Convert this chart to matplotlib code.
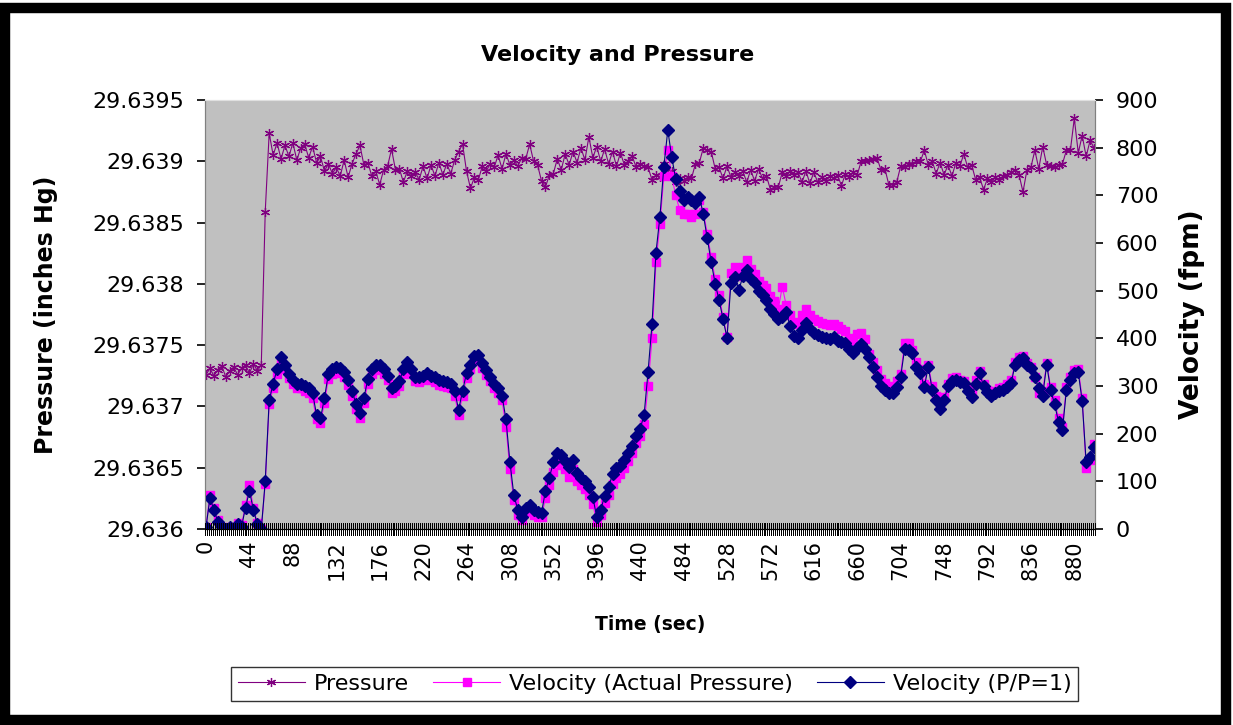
import matplotlib
matplotlib.use("Agg")
import matplotlib.pyplot as plt
from matplotlib.patches import Rectangle
from matplotlib.ticker import FormatStrFormatter

# time axis (sec), one sample every 4 s
time_s = list(range(0, 901, 4))

# barometric pressure (inches Hg)
pressure = [
    29.63726, 29.63731, 29.63725, 29.63730, 29.63733, 29.63724, 29.63729, 29.63732, 29.63726, 29.63731, 29.63734,
    29.63727, 29.63735, 29.63729, 29.63734, 29.63859, 29.63923, 29.63905, 29.63915, 29.63902, 29.63913, 29.63904,
    29.63915, 29.63901, 29.63911, 29.63914, 29.63903, 29.63912, 29.63899, 29.63904, 29.63892, 29.63898, 29.63890,
    29.63895, 29.63888, 29.63901, 29.63887, 29.63898, 29.63906, 29.63913, 29.63897, 29.63899, 29.63888, 29.63892,
    29.63881, 29.63893, 29.63896, 29.63910, 29.63893, 29.63894, 29.63883, 29.63892, 29.63888, 29.63891, 29.63885,
    29.63896, 29.63886, 29.63897, 29.63888, 29.63899, 29.63889, 29.63898, 29.63890, 29.63901, 29.63908, 29.63914,
    29.63892, 29.63878, 29.63887, 29.63885, 29.63896, 29.63892, 29.63898, 29.63895, 29.63905, 29.63894, 29.63906,
    29.63897, 29.63901, 29.63896, 29.63903, 29.63902, 29.63914, 29.63900, 29.63897, 29.63884, 29.63879, 29.63889,
    29.63890, 29.63902, 29.63893, 29.63906, 29.63897, 29.63908, 29.63899, 29.63911, 29.63901, 29.63920, 29.63903,
    29.63912, 29.63900, 29.63910, 29.63898, 29.63908, 29.63896, 29.63907, 29.63897, 29.63900, 29.63904, 29.63895,
    29.63898, 29.63896, 29.63895, 29.63885, 29.63889, 29.63887, 29.63898, 29.63890, 29.63892, 29.63883, 29.63886,
    29.63884, 29.63887, 29.63886, 29.63898, 29.63899, 29.63911, 29.63909, 29.63908, 29.63894, 29.63895, 29.63886,
    29.63896, 29.63887, 29.63891, 29.63888, 29.63892, 29.63883, 29.63893, 29.63884, 29.63894, 29.63886, 29.63888,
    29.63877, 29.63879, 29.63879, 29.63891, 29.63888, 29.63892, 29.63889, 29.63891, 29.63883, 29.63892, 29.63882,
    29.63891, 29.63883, 29.63887, 29.63884, 29.63888, 29.63886, 29.63889, 29.63880, 29.63890, 29.63887, 29.63891,
    29.63889, 29.63900, 29.63900, 29.63901, 29.63902, 29.63903, 29.63893, 29.63894, 29.63881, 29.63881, 29.63883,
    29.63896, 29.63895, 29.63898, 29.63898, 29.63900, 29.63900, 29.63909, 29.63897, 29.63900, 29.63890, 29.63899,
    29.63889, 29.63897, 29.63888, 29.63899, 29.63896, 29.63906, 29.63895, 29.63897, 29.63885, 29.63887, 29.63877,
    29.63886, 29.63883, 29.63887, 29.63885, 29.63888, 29.63889, 29.63891, 29.63893, 29.63889, 29.63875, 29.63893,
    29.63895, 29.63909, 29.63894, 29.63912, 29.63897, 29.63896, 29.63895, 29.63897, 29.63898, 29.63909, 29.63909,
    29.63935, 29.63907, 29.63921, 29.63904, 29.63917, 29.63911,
]

# velocity computed with actual pressure (fpm)
vel_actual = [
    5, 72, 45, 18, 5, 0, 5, 0, 12, 8, 50,
    92, 45, 12, 0, 95, 262, 296, 325, 350, 336, 316,
    304, 296, 296, 290, 285, 274, 230, 222, 265, 315, 326,
    330, 328, 320, 303, 280, 252, 233, 265, 305, 325, 335,
    334, 325, 312, 285, 290, 300, 325, 340, 325, 310, 308,
    312, 317, 312, 308, 303, 300, 298, 295, 280, 240, 280,
    317, 335, 352, 355, 338, 323, 310, 295, 285, 270, 215,
    125, 60, 30, 18, 35, 40, 30, 25, 25, 65, 92,
    120, 140, 135, 125, 110, 125, 100, 92, 85, 72, 52,
    15, 30, 55, 72, 95, 108, 115, 128, 142, 160, 180,
    195, 220, 300, 400, 560, 640, 740, 795, 740, 700, 670,
    660, 660, 655, 660, 690, 665, 620, 570, 525, 490, 445,
    403, 537, 550, 530, 550, 564, 545, 535, 520, 512, 505,
    488, 478, 462, 508, 470, 450, 435, 430, 448, 462, 450,
    440, 437, 432, 430, 428, 430, 425, 420, 415, 400, 390,
    410, 411, 398, 368, 350, 333, 315, 306, 298, 300, 310,
    325, 390, 390, 375, 350, 335, 305, 345, 300, 280, 260,
    278, 305, 316, 318, 313, 310, 296, 285, 312, 332, 305,
    292, 286, 290, 296, 298, 304, 312, 350, 360, 362, 348,
    340, 320, 285, 290, 348, 298, 270, 232, 215, 298, 320,
    333, 336, 275, 128, 145, 178,
]

# velocity computed with P/P=1 (fpm)
vel_std = [
    5, 65, 40, 15, 5, 0, 5, 0, 10, 5, 45,
    80, 40, 10, 0, 100, 270, 305, 335, 360, 345, 325,
    313, 305, 305, 300, 295, 285, 240, 232, 275, 325, 335,
    340, 338, 330, 313, 290, 262, 243, 275, 315, 335, 345,
    344, 335, 322, 295, 300, 310, 335, 350, 335, 320, 318,
    322, 327, 322, 318, 313, 310, 308, 305, 290, 250, 290,
    327, 345, 362, 365, 348, 333, 320, 305, 295, 280, 230,
    140, 71, 40, 25, 45, 50, 40, 35, 34, 80, 108,
    140, 160, 155, 143, 130, 145, 117, 108, 100, 88, 67,
    25, 40, 70, 88, 115, 128, 132, 145, 160, 175, 195,
    210, 240, 330, 430, 580, 655, 760, 837, 780, 735, 710,
    690, 697, 690, 684, 697, 660, 610, 560, 515, 480, 440,
    401, 516, 529, 501, 530, 543, 525, 516, 500, 490, 480,
    462, 452, 440, 445, 455, 425, 405, 400, 417, 432, 420,
    411, 407, 403, 400, 398, 403, 395, 392, 390, 378, 369,
    380, 388, 378, 360, 340, 319, 300, 292, 285, 286, 298,
    319, 378, 375, 369, 340, 327, 298, 340, 292, 270, 252,
    270, 300, 310, 313, 308, 306, 290, 277, 305, 327, 300,
    287, 280, 285, 290, 292, 298, 306, 345, 355, 359, 345,
    338, 319, 295, 280, 345, 292, 262, 225, 208, 292, 313,
    327, 329, 268, 140, 151, 172,
]

# category boundaries every 2 s, a label on every 22nd category
category_edges = list(range(-1, 902, 2))
label_ticks = list(range(0, 881, 44))
pressure_ticks = [29.636, 29.6365, 29.637, 29.6375, 29.638, 29.6385, 29.639, 29.6395]
velocity_ticks = list(range(0, 901, 100))

plt.rcParams['font.family'] = ['DejaVu Sans']

fig = plt.figure(figsize=(12.33, 7.25), dpi=100)
fig.patch.set_facecolor('white')
# black frame round the chart
fig.patches.append(Rectangle((0.004, 0.007), 0.99, 0.982, transform=fig.transFigure,
                             fill=False, edgecolor='black', linewidth=7.5, zorder=10))

ax = fig.add_axes([0.1663, 0.2703, 0.7218, 0.5917])
ax.set_facecolor('#c0c0c0')
ax.plot(time_s, pressure, color='#800080', linewidth=0.8, marker=(6, 2, 0),
        markersize=6.5, markeredgewidth=0.9, label='Pressure')
ax.set_ylim(29.636, 29.6395)
ax.set_xlim(-1, 901)
ax.set_yticks(pressure_ticks)
ax.yaxis.set_major_formatter(FormatStrFormatter('%g'))

ax2 = ax.twinx()
ax2.plot(time_s, vel_actual, color='#ff00ff', linewidth=0.8, marker='s',
         markersize=6, label='Velocity (Actual Pressure)')
ax2.plot(time_s, vel_std, color='#000080', linewidth=0.8, marker='D',
         markersize=6.5, label='Velocity (P/P=1)')
ax2.set_ylim(0, 900)
ax2.set_yticks(velocity_ticks)
ax2.set_xlim(-1, 901)

# tick marks at every category boundary, drawn above the plotted series
ax2.vlines(category_edges, -0.014, 0.014, transform=ax2.get_xaxis_transform(),
           colors='black', linewidth=0.7, antialiased=False, clip_on=False, zorder=5)

ax.set_xticks(label_ticks)
ax.set_xticklabels([str(t) for t in label_ticks], rotation=90)
ax.tick_params(axis='x', which='major', length=0, pad=8, labelsize=15)
ax.tick_params(axis='y', which='major', length=6, width=1.2, direction='out', pad=9, labelsize=16)
ax2.tick_params(axis='y', which='major', length=6, width=1.2, direction='out', pad=9, labelsize=16)

for a in (ax, ax2):
    a.spines['left'].set_color('#808080')
    a.spines['right'].set_color('#808080')
    a.spines['top'].set_color('#e0e0e0')
    a.spines['bottom'].set_color('black')

ax.set_ylabel('Pressure (inches Hg)', fontsize=17, fontweight='bold')
ax.yaxis.set_label_coords(-0.165, 0.5)
ax2.set_ylabel('Velocity (fpm)', fontsize=19, fontweight='bold')
ax2.yaxis.set_label_coords(1.094, 0.5)
ax.set_xlabel('Time (sec)', fontsize=13.5, fontweight='bold')
ax.xaxis.set_label_coords(0.5, -0.2)

fig.text(0.501, 0.924, 'Velocity and Pressure', ha='center', va='center',
         fontsize=16, fontweight='bold')

h1, l1 = ax.get_legend_handles_labels()
h2, l2 = ax2.get_legend_handles_labels()
leg = fig.legend(h1 + h2, l1 + l2, loc='center', bbox_to_anchor=(0.531, 0.0566), ncol=3,
                 fontsize=16, frameon=True, fancybox=False, edgecolor='black',
                 handlelength=3.0, handletextpad=0.4, columnspacing=1.1, borderpad=0.3)
leg.get_frame().set_linewidth(1.0)

plt.savefig('out.png', dpi=100, facecolor=fig.get_facecolor())
